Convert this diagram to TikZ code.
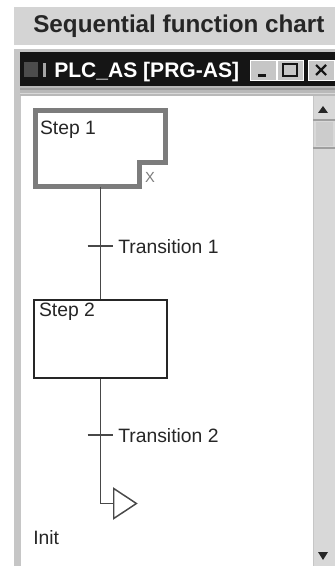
\documentclass[tikz,border=0pt]{standalone}
\usepackage{fontspec}
\setmainfont{Liberation Sans}
\usetikzlibrary{shapes.geometric, positioning}
\definecolor{bandgray}{HTML}{D4D4D4}
\definecolor{framegray}{HTML}{C6C6C6}
\definecolor{titleblack}{HTML}{151515}
\definecolor{stepgray}{HTML}{7C7C7C}
\definecolor{wiregray}{HTML}{484848}
\definecolor{darktext}{HTML}{262626}
\definecolor{scrollgray}{HTML}{D8D8D8}

\begin{document}
\begin{tikzpicture}[x=0.75pt, y=-0.75pt, font=\fontsize{14.5}{17}\selectfont,
  stepbox/.style={rectangle, inner sep=0pt, minimum width=99pt, minimum height=58pt},
  steplbl/.style={anchor=base west, inner sep=0pt, text=darktext},
  translbl/.style={anchor=base west, inner sep=0pt, text=darktext},
  wire/.style={draw=wiregray, line width=1.1pt},
  tick/.style={draw=wiregray, line width=1.1pt},
  winbtn/.style={fill=framegray, draw=white, line width=0.6pt}]
  \useasboundingbox (0,0) rectangle (335,566);
  \fill[white] (0,0) rectangle (335,566);
  % heading band
  \fill[bandgray] (14,7) rectangle (335,45);
  \node[font=\bfseries\fontsize{18.2}{20}\selectfont, text=darktext, anchor=base west, inner sep=0pt] (heading) at (33,33) {Sequential function chart};
  % window frame and title bar
  \fill[framegray] (14,49) rectangle (335,566);
  \fill[titleblack] (20,52) rectangle (335,86);
  \fill[black!70] (24,62) rectangle (38,77);
  \fill[gray!70] (43,63) rectangle (46,77);
  \node[font=\bfseries\fontsize{15.8}{17}\selectfont, text=white, anchor=base west, inner sep=0pt] (wintitle) at (54,78) {PLC\_AS [PRG-AS]};
  \fill[winbtn] (250,60) rectangle (276,80);
  \fill[titleblack] (258,74) rectangle (266,77);
  \fill[winbtn] (277,60) rectangle (303,80);
  \draw[titleblack, line width=1.5pt] (283,64) rectangle (297,76);
  \fill[winbtn] (308,60) rectangle (334,80);
  \draw[titleblack, line width=1.6pt] (316,65) -- (326,75) (326,65) -- (316,75);
  \fill[gray!55] (20,86) rectangle (335,96);
  \draw[gray!75, line width=0.8pt] (20,89) -- (335,89);
  \draw[gray!30, line width=0.6pt] (20,93) -- (335,93);
  % chart area
  \fill[white] (21,96) rectangle (313,566);
  % scroll bar
  \fill[scrollgray] (313,96) rectangle (335,566);
  \draw[gray!45, line width=0.6pt] (313,96) -- (313,566);
  \fill[black!85] (318,113) -- (328,113) -- (323,106) -- cycle;
  \draw[gray!75, line width=1pt] (313,120) -- (335,120);
  \fill[gray!40] (316,122) rectangle (333,146);
  \draw[gray!75, line width=1pt] (313,148) -- (335,148);
  \fill[black!85] (318,552) -- (328,552) -- (323,560) -- cycle;
  % steps
  \node[stepbox, minimum width=97.5pt, minimum height=57pt] (step1) at (100.5,148.5) {};
  \draw[stepgray, line width=3.75pt, line join=miter]
    (step1.north west) -- (step1.north east) -- ([yshift=-39pt]step1.north east)
    -| ([xshift=-19.5pt]step1.south east) -- (step1.south west) -- cycle;
  \node[steplbl] (step1txt) at ([shift={(4.5,24.5)}]step1.north west) {Step 1};
  \node[font=\fontsize{11}{12}\selectfont, text=stepgray, inner sep=0pt] (step1x) at (150,177.5) {X};
  \node[stepbox, draw=darktext, line width=1.5pt, minimum width=100pt, minimum height=59pt] (step2) at (100.5,339) {};
  \node[steplbl] (step2txt) at ([shift={(6,18)}]step2.north west) {Step 2};
  % transitions
  \coordinate (trans1) at (101,246);
  \coordinate (trans2) at (101,435);
  \draw[wire] (step1.south) -- (step2.north);
  \draw[tick] ([xshift=-10pt]trans1) -- ([xshift=9pt]trans1);
  \node[translbl] (trans1txt) at ([shift={(17,7.5)}]trans1) {Transition 1};
  \draw[tick] ([xshift=-10pt]trans2) -- ([xshift=9pt]trans2);
  \node[translbl] (trans2txt) at ([shift={(17,7.5)}]trans2) {Transition 2};
  % jump
  \node[isosceles triangle, isosceles triangle stretches, draw=wiregray, line width=1.1pt,
    minimum width=22.5pt, minimum height=17pt, inner sep=0pt, anchor=west] (jump) at (113,503.5) {};
  \draw[wire] (step2.south) |- (jump.west);
  \node[steplbl] (inittxt) at (33,544) {Init};
\end{tikzpicture}
\end{document}
